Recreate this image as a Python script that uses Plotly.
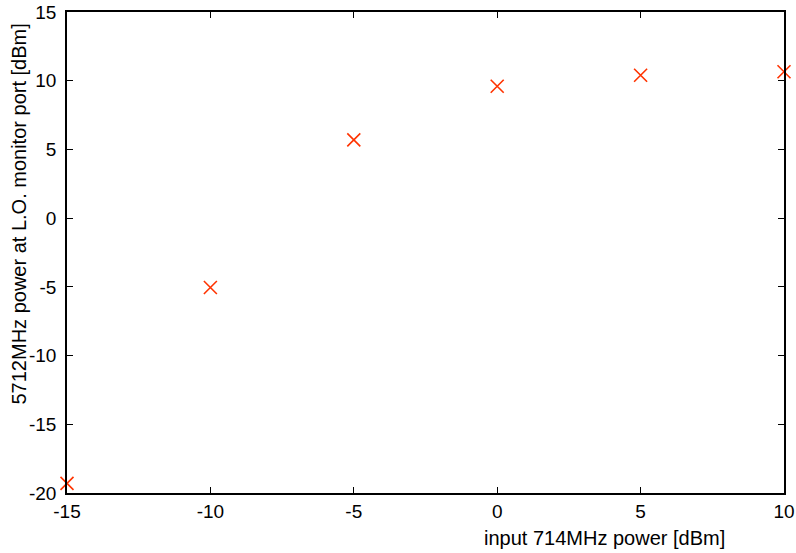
import plotly.graph_objects as go

input_power_dbm = [-15, -10, -5, 0, 5, 10]
lo_monitor_power_dbm = [-19.3, -5.05, 5.7, 9.6, 10.4, 10.65]

x_ticks = [-15, -10, -5, 0, 5, 10]
y_ticks = [-20, -15, -10, -5, 0, 5, 10, 15]

font_family = "Liberation Sans, Arial, Helvetica, sans-serif"

fig = go.Figure()
fig.add_trace(go.Scatter(
    x=input_power_dbm, y=lo_monitor_power_dbm, mode="markers",
    marker=dict(symbol="x-thin", size=13, line=dict(color="#ff3300", width=1.6)),
    cliponaxis=False, showlegend=False,
))

axis_common = dict(
    showgrid=False, zeroline=False, showline=True, linecolor="black", linewidth=1.5,
    mirror="ticks", ticks="inside", ticklen=6, tickwidth=1, tickcolor="black",
    tickfont=dict(family=font_family, size=19, color="black"), automargin=False,
)
fig.update_xaxes(range=[-15, 10], tickvals=x_ticks, ticktext=[str(v) for v in x_ticks], **axis_common)
fig.update_yaxes(range=[-20, 15], tickvals=y_ticks, ticktext=[str(v) for v in y_ticks],
                 ticklabelstandoff=5, **axis_common)

fig.add_annotation(text="input 714MHz power [dBm]", xref="paper", yref="paper",
                   x=0.749, y=-0.0936, xanchor="center", yanchor="middle", showarrow=False,
                   font=dict(family=font_family, size=20, color="black"))
fig.add_annotation(text="5712MHz power at L.O. monitor port [dBm]", xref="paper", yref="paper",
                   x=-0.067, y=0.581, xanchor="center", yanchor="middle", textangle=-90, showarrow=False,
                   font=dict(family=font_family, size=20, color="black"))

fig.update_layout(
    width=796, height=553, autosize=False,
    margin=dict(l=67, r=12, t=12, b=60),
    plot_bgcolor="white", paper_bgcolor="white",
)
fig.write_html("out.html", config={"displayModeBar": False},
               post_script="document.body.style.margin='0';")
